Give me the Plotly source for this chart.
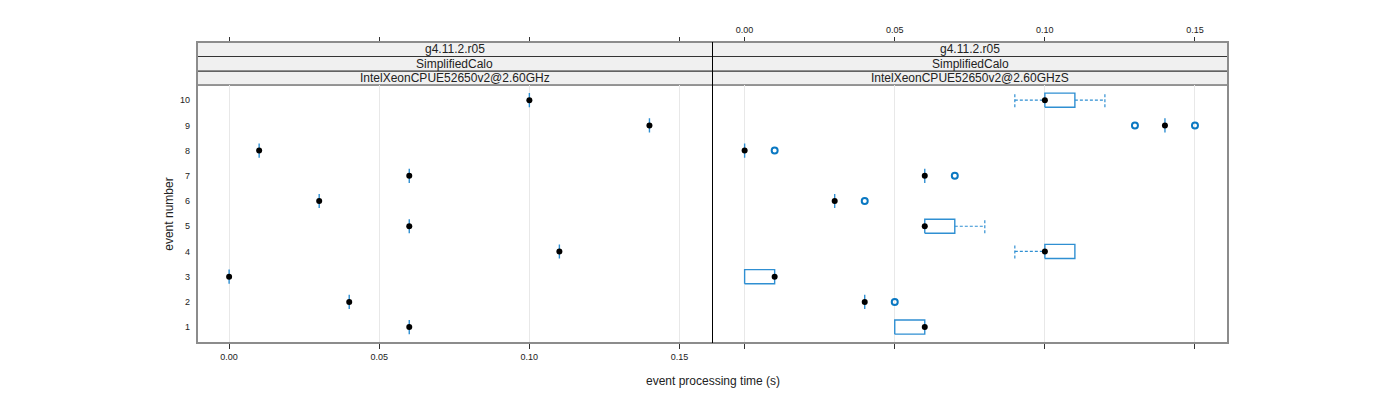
import plotly.graph_objects as go

# ---------------- data ----------------
events = [1, 2, 3, 4, 5, 6, 7, 8, 9, 10]
tick_vals = [0.0, 0.05, 0.10, 0.15]
tick_text = ["0.00", "0.05", "0.10", "0.15"]

strip_labels_left = ["g4.11.2.r05", "SimplifiedCalo", "IntelXeonCPUE52650v2@2.60GHz"]
strip_labels_right = ["g4.11.2.r05", "SimplifiedCalo", "IntelXeonCPUE52650v2@2.60GHzS"]

# left panel: a single measurement per event
left_times = [0.06, 0.04, 0.00, 0.11, 0.06, 0.03, 0.06, 0.01, 0.14, 0.10]

# right panel: box statistics per event
right_lower = [0.05, 0.04, 0.00, 0.09, 0.06, 0.03, 0.06, 0.00, 0.14, 0.09]
right_q1 = [0.05, 0.04, 0.00, 0.10, 0.06, 0.03, 0.06, 0.00, 0.14, 0.10]
right_median = [0.06, 0.04, 0.01, 0.10, 0.06, 0.03, 0.06, 0.00, 0.14, 0.10]
right_q3 = [0.06, 0.04, 0.01, 0.11, 0.07, 0.03, 0.06, 0.00, 0.14, 0.11]
right_upper = [0.06, 0.04, 0.01, 0.11, 0.08, 0.03, 0.06, 0.00, 0.14, 0.12]
outlier_events = [2, 6, 7, 8, 9, 9]
outlier_times = [0.05, 0.04, 0.07, 0.01, 0.13, 0.15]

# ---------------- style ----------------
BOX_COL = "#2f8fd2"
OUT_COL = "#0a78c2"
HALF = 0.28
FONT = "Liberation Sans, Arial, sans-serif"
XR = [-0.0107, 0.161]
YR = [0.37, 10.6]
PANEL_TOP = 0.857


def box_traces(lower, q1, med, q3, upper, xa, ya):
    bx, by, wx, wy = [], [], [], []
    for e, lo, a, m, b, hi in zip(events, lower, q1, med, q3, upper):
        bx += [a, b, b, a, a, None]
        by += [e - HALF, e - HALF, e + HALF, e + HALF, e - HALF, None]
        if lo < a:
            wx += [lo, a, None, lo, lo, None]
            wy += [e, e, None, e - HALF, e + HALF, None]
        if hi > b:
            wx += [b, hi, None, hi, hi, None]
            wy += [e, e, None, e - HALF, e + HALF, None]
    tr = [
        go.Scatter(x=bx, y=by, mode="lines", line=dict(color=BOX_COL, width=1.4),
                   xaxis=xa, yaxis=ya, hoverinfo="skip"),
        go.Scatter(x=med, y=events, mode="markers",
                   marker=dict(color="black", size=6), xaxis=xa, yaxis=ya),
    ]
    if wx:
        tr.insert(1, go.Scatter(x=wx, y=wy, mode="lines",
                                line=dict(color=BOX_COL, width=1.2, dash="3px,2px"),
                                xaxis=xa, yaxis=ya, hoverinfo="skip"))
    return tr


fig = go.Figure()
for t in box_traces(left_times, left_times, left_times, left_times, left_times, "x", "y"):
    fig.add_trace(t)
for t in box_traces(right_lower, right_q1, right_median, right_q3, right_upper, "x2", "y2"):
    fig.add_trace(t)
fig.add_trace(go.Scatter(x=outlier_times, y=outlier_events, mode="markers",
                         marker=dict(symbol="circle-open", color=OUT_COL, size=6,
                                     line=dict(width=2, color=OUT_COL)),
                         xaxis="x2", yaxis="y2"))
# carriers for the top axes
fig.add_trace(go.Scatter(x=[0], y=[1], mode="markers", marker=dict(opacity=0),
                         xaxis="x3", yaxis="y2", hoverinfo="skip"))
fig.add_trace(go.Scatter(x=[0], y=[1], mode="markers", marker=dict(opacity=0),
                         xaxis="x4", yaxis="y", hoverinfo="skip"))

common_x = dict(range=XR, tickvals=tick_vals, ticktext=tick_text, ticks="outside",
                ticklen=5, tickcolor="#333", tickwidth=1, showline=False, zeroline=False,
                tickfont=dict(size=9, color="#222", family=FONT))
fig.update_layout(
    width=1392, height=392,
    margin=dict(l=189, r=172, t=34, b=57),
    plot_bgcolor="white", paper_bgcolor="white",
    showlegend=False,
    font=dict(family=FONT, color="#222"),
    xaxis=dict(domain=[0, 0.5], anchor="y", showgrid=True, gridcolor="#e8e8e8",
               gridwidth=1, **common_x),
    xaxis2=dict(domain=[0.5, 1], anchor="y2", showgrid=True, gridcolor="#e8e8e8",
                gridwidth=1, showticklabels=False, **common_x),
    xaxis3=dict(overlaying="x2", anchor="free", position=1, side="top",
                showgrid=False, **common_x),
    xaxis4=dict(overlaying="x", anchor="free", position=1, side="top",
                showgrid=False, showticklabels=False, **common_x),
    yaxis=dict(domain=[0, PANEL_TOP], range=YR, tickvals=events,
               ticktext=[str(e) for e in events], ticks="", showgrid=False,
               zeroline=False, showline=False, ticklabelstandoff=6,
               tickfont=dict(size=9, color="#222", family=FONT),
               title=dict(text="event number", font=dict(size=12, family=FONT), standoff=3),
               anchor="x"),
    yaxis2=dict(domain=[0, PANEL_TOP], range=YR, matches="y", showticklabels=False,
                ticks="", showgrid=False, zeroline=False, anchor="x2"),
)

shapes = []
strip_edges = [PANEL_TOP, 0.9037, 0.9518, 1.0]
for x0, x1 in [(0, 0.5), (0.5, 1)]:
    for i in range(3):
        shapes.append(dict(type="rect", xref="paper", yref="paper", x0=x0, x1=x1,
                           y0=strip_edges[i], y1=strip_edges[i + 1],
                           fillcolor="#f0f0f0", line=dict(color="#333", width=1), layer="below"))
# outer border
shapes.append(dict(type="rect", xref="paper", yref="paper", x0=0, x1=1, y0=0, y1=1,
                   line=dict(color="#8c8c8c", width=2), fillcolor="rgba(0,0,0,0)"))
# panel divider
shapes.append(dict(type="line", xref="paper", yref="paper", x0=0.5, x1=0.5, y0=0, y1=1,
                   line=dict(color="black", width=1)))
fig.update_layout(shapes=shapes)

ann = []
for xc, labels in [(0.25, strip_labels_left), (0.75, strip_labels_right)]:
    for i, lab in enumerate(reversed(labels)):
        ann.append(dict(text=lab, xref="paper", yref="paper", x=xc,
                        y=(strip_edges[i] + strip_edges[i + 1]) / 2, showarrow=False,
                        font=dict(size=12, family=FONT, color="#222"),
                        xanchor="center", yanchor="middle"))
ann.append(dict(text="event processing time (s)", xref="paper", yref="paper", x=0.5,
                y=-0.126, showarrow=False, yanchor="middle",
                font=dict(size=12, family=FONT, color="#222")))
fig.update_layout(annotations=ann)

fig.write_html("out.html")
